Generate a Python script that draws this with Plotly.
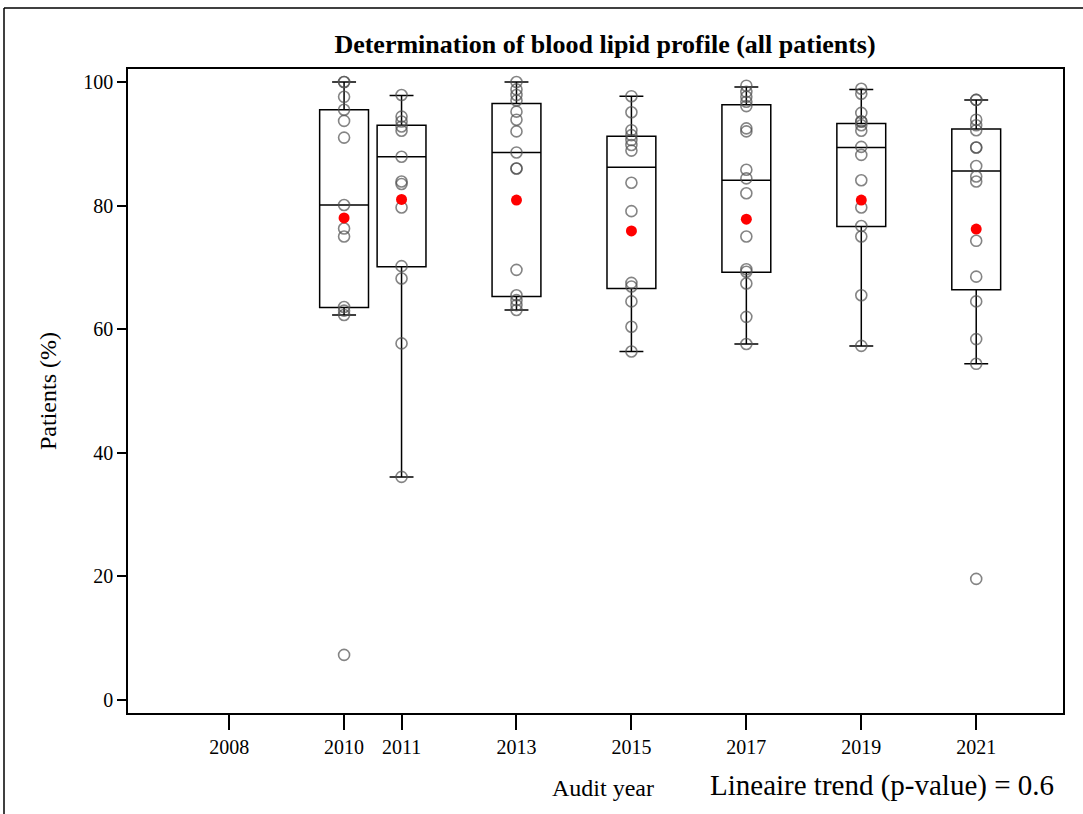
import plotly.graph_objects as go

# Audit years with data
years = [2010, 2011, 2013, 2015, 2017, 2019, 2021]
tick_years = [2008, 2010, 2011, 2013, 2015, 2017, 2019, 2021]

# Box summary statistics per audit year (% of patients)
q1 = [63.5, 70.1, 65.3, 66.6, 69.2, 76.6, 66.4]
median = [80.1, 87.9, 88.6, 86.2, 84.1, 89.4, 85.6]
q3 = [95.5, 93.0, 96.5, 91.2, 96.3, 93.3, 92.4]
whisker_low = [62.3, 36.1, 63.1, 56.4, 57.6, 57.3, 54.4]
whisker_high = [100.0, 97.8, 100.0, 97.7, 99.2, 98.8, 97.1]
mean = [78.0, 81.0, 80.9, 75.9, 77.8, 80.9, 76.2]

# Individual centre results per audit year
pts_2010 = [100, 100, 97.6, 95.5, 93.7, 91.0, 80.1, 76.3, 75.0, 63.6, 63.0, 62.3, 7.3]
pts_2011 = [97.9, 94.4, 93.6, 92.8, 92.1, 87.9, 83.9, 83.5, 79.7, 70.2, 68.2, 57.7, 36.1]
pts_2013 = [100, 98.8, 97.9, 97.0, 95.2, 93.9, 92.0, 88.6, 86.0, 86.0, 69.6, 65.5, 64.7, 63.9, 63.1]
pts_2015 = [97.7, 95.1, 92.2, 91.4, 90.6, 89.8, 88.9, 83.7, 79.1, 67.5, 66.9, 64.5, 60.4, 56.4]
pts_2017 = [99.4, 98.4, 97.6, 96.8, 96.1, 92.5, 92.0, 85.8, 84.4, 82.0, 75.0, 69.7, 69.3, 67.4, 62.0, 57.6]
pts_2019 = [98.9, 98.1, 95.0, 93.6, 93.6, 93.0, 92.1, 89.5, 88.2, 84.1, 79.7, 76.7, 75.0, 65.5, 57.3]
pts_2021 = [97.1, 97.1, 93.9, 93.0, 92.2, 89.4, 89.4, 86.4, 84.7, 83.9, 74.3, 68.5, 64.5, 58.4, 54.4, 19.6]

points = [pts_2010, pts_2011, pts_2013, pts_2015, pts_2017, pts_2019, pts_2021]

title_text = "Determination of blood lipid profile (all patients)"
y_title = "Patients (%)"
x_title = "Audit year"
trend_text = "Lineaire trend (p-value) = 0.6"

FONT = "Liberation Serif"

fig = go.Figure()

fig.add_trace(go.Box(
    x=years, q1=q1, median=median, q3=q3,
    lowerfence=whisker_low, upperfence=whisker_high,
    width=0.85, whiskerwidth=0.49,
    line=dict(color="black", width=1.5),
    fillcolor="rgba(255,255,255,0)",
    boxpoints=False, showlegend=False, hoverinfo="skip",
))

px, py = [], []
for yr, vals in zip(years, points):
    px += [yr] * len(vals)
    py += vals

fig.add_trace(go.Scatter(
    x=px, y=py, mode="markers", showlegend=False,
    marker=dict(symbol="circle-open", size=11, color="rgba(80,80,80,0.7)",
                line=dict(width=1.6, color="rgba(80,80,80,0.7)")),
))

fig.add_trace(go.Scatter(
    x=years, y=mean, mode="markers", showlegend=False,
    marker=dict(symbol="circle", size=11, color="#ff0000"),
))

W, H = 1083, 814
ml, mr, mt, mb = 128, 20, 69, 101
pw, ph = W - ml - mr, H - mt - mb

fig.update_layout(
    width=W, height=H,
    margin=dict(l=ml, r=mr, t=mt, b=mb, pad=0),
    paper_bgcolor="white", plot_bgcolor="white",
    font=dict(family=FONT, color="black", size=20),
    title=dict(text="<b>" + title_text + "</b>", font=dict(family=FONT, size=26),
               x=(605 - ml) / pw, xref="paper", xanchor="center",
               y=1 - 44 / H, yref="container", yanchor="middle"),
    xaxis=dict(range=[2006.24, 2022.51], tickmode="array", tickvals=tick_years,
               ticktext=[str(t) for t in tick_years],
               ticks="outside", ticklen=15, tickwidth=1.5, tickcolor="black",
               showline=True, mirror=True, linecolor="black", linewidth=1.8,
               showgrid=False, zeroline=False, tickfont=dict(size=20)),
    yaxis=dict(range=[-2.1, 102.1], tickmode="array", tickvals=[0, 20, 40, 60, 80, 100],
               ticks="outside", ticklen=9, tickwidth=1.5, tickcolor="black",
               showline=True, mirror=True, linecolor="black", linewidth=1.5,
               showgrid=False, zeroline=False, tickfont=dict(size=20),
               title=dict(text=y_title, font=dict(size=24), standoff=20)),
)

fig.add_annotation(text=x_title, xref="paper", yref="paper",
                   x=(603 - ml) / pw, y=(H - mb - 788) / ph,
                   xanchor="center", yanchor="middle", showarrow=False,
                   font=dict(family=FONT, size=24))
fig.add_annotation(text=trend_text, xref="paper", yref="paper",
                   x=(882 - ml) / pw, y=(H - mb - 785) / ph,
                   xanchor="center", yanchor="middle", showarrow=False,
                   font=dict(family=FONT, size=29))

# Outer frame lines (top and left edges)
fig.add_shape(type="line", xref="paper", yref="paper",
              x0=(4 - ml) / pw, x1=(W + 5 - ml) / pw,
              y0=(H - mb - 8) / ph, y1=(H - mb - 8) / ph,
              line=dict(color="black", width=1.5))
fig.add_shape(type="line", xref="paper", yref="paper",
              x0=(4 - ml) / pw, x1=(4 - ml) / pw,
              y0=(H - mb - 8) / ph, y1=(H - mb - H - 5) / ph,
              line=dict(color="black", width=1.5))

fig.write_html("out.html")
